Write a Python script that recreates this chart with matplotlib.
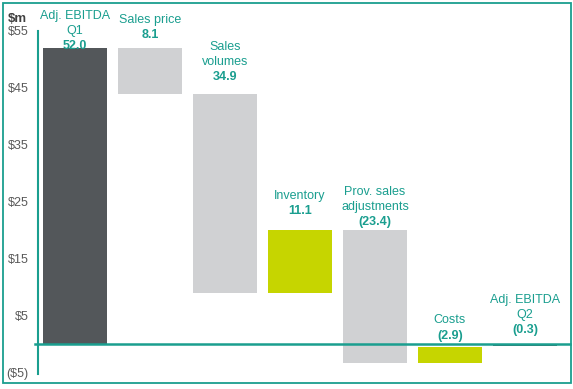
import numpy as np
import matplotlib.pyplot as plt
from matplotlib.patches import Rectangle

plt.rcParams['font.family'] = ['Liberation Sans', 'DejaVu Sans']

# Datos del gráfico (puente de EBITDA, $m)
categorias = ["Adj. EBITDA\nQ1", "Sales price", "Sales\nvolumes", "Inventory",
              "Prov. sales\nadjustments", "Costs", "Adj. EBITDA\nQ2"]
valores = [52.0, -8.1, -34.9, 11.1, -23.4, 2.9, -0.3]
etiquetas = ["52.0", "8.1", "34.9", "11.1", "(23.4)", "(2.9)", "(0.3)"]
tipos = ["total", "baja", "baja", "sube", "baja", "sube", "total"]
ticks_y = [55, 45, 35, 25, 15, 5, -5]
ticks_txt = ["$55", "$45", "$35", "$25", "$15", "$5", "($5)"]

# Separación (en puntos) entre la barra y su etiqueta, como en el original
desfase = [-3, 5, 8, 9, 1, 2, 6]

TEAL = '#1a9e8f'
colores = {"total": '#53575a', "baja": '#d0d1d3', "sube": '#c6d500'}

# Calcular base y tope de cada barra
bases, topes = [], []
acum = 0.0
for v, t in zip(valores, tipos):
    if t == "total":
        bases.append(0.0)
        topes.append(v)
        acum = v
    else:
        bases.append(acum)
        acum += v
        topes.append(acum)

fig = plt.figure(figsize=(5.73, 3.89), dpi=100)
ax = fig.add_axes([38 / 573, 15 / 389, 532 / 573, 343 / 389])

x = np.arange(len(valores))
alturas = [t - b for b, t in zip(bases, topes)]
ax.bar(x, alturas, bottom=bases, width=0.86,
       color=[colores[t] for t in tipos], zorder=2)

# Etiquetas sobre las barras
for i in range(len(valores)):
    y = max(bases[i], topes[i], 0)
    ax.annotate(etiquetas[i], (x[i], y), xytext=(0, desfase[i]), textcoords='offset points',
                ha='center', va='bottom', fontsize=9, fontweight='bold', color=TEAL)
    ax.annotate(categorias[i], (x[i], y), xytext=(0, desfase[i] + 11),
                textcoords='offset points', ha='center', va='bottom',
                fontsize=9, color=TEAL, linespacing=1.35)

ax.set_xlim(-0.493, 6.6)
ax.set_ylim(-5.2, 55)
ax.set_xticks([])
ax.set_yticks(ticks_y)
ax.set_yticklabels(ticks_txt, fontsize=9, color='#595959')
ax.tick_params(axis='y', length=0, pad=7)
for s in ['top', 'right', 'bottom']:
    ax.spines[s].set_visible(False)
ax.spines['left'].set_color(TEAL)
ax.spines['left'].set_linewidth(1.5)

# Línea de cero
ax.axhline(0, xmin=-0.006, xmax=1, color=TEAL, lw=1.8, clip_on=False, zorder=3)

fig.text(8 / 573, 1 - 19 / 389, "$m", fontsize=9.5, fontweight='bold',
         color='#404040', va='center')

# Marco exterior
fig.patches.append(Rectangle((3 / 573, 6 / 389), 568 / 573, 380 / 389,
                             transform=fig.transFigure, fill=False,
                             edgecolor=TEAL, lw=1.3))

fig.savefig("out.png", dpi=100)
